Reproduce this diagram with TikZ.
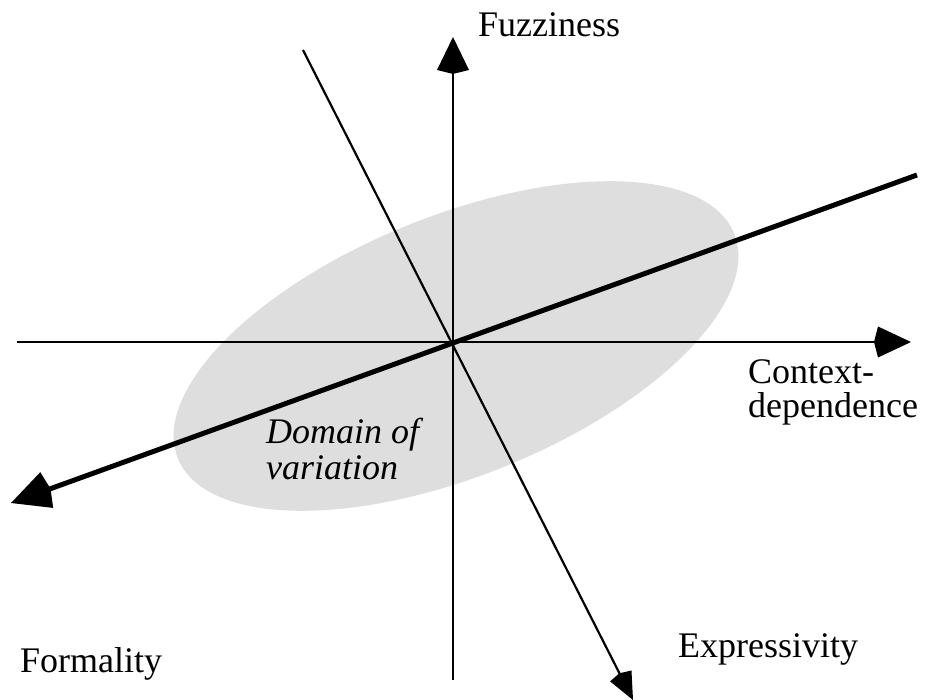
\documentclass[tikz,border=0pt]{standalone}
\usepackage{fontspec}
\setmainfont{Liberation Serif}
\usetikzlibrary{arrows.meta}
\begin{document}
\begin{tikzpicture}[x=1pt,y=-1pt,
  thinax/.style={line width=2.2pt},
  thickax/.style={line width=5pt},
  lbl/.style={inner sep=0pt,font=\fontsize{36}{34}\selectfont,align=left},
]
\useasboundingbox (0,0) rectangle (928,700);
\fill[black!13,rotate around={22:(456,346)}] (456,346) ellipse [x radius=300, y radius=130];
\coordinate (O) at (453,342);
\coordinate (vb) at (453,680);
\coordinate (vt) at (453,37);
\coordinate (hl) at (17,342);
\coordinate (hr) at (911,342);
\coordinate (tr) at (917,175);
\coordinate (bl) at (11,503);
\coordinate (dt) at (303,50);
\coordinate (db) at (633,700);
\draw[thinax,-{Kite[length=37pt,width=32pt,inset=4pt]}] (vb) -- (vt);
\draw[thinax,-{Kite[length=37pt,width=31pt,inset=4pt]}] (hl) -- (hr);
\draw[thickax,-{Kite[length=42pt,width=38pt,inset=4pt]}] (tr) -- (bl);
\draw[thinax,-{Kite[length=30pt,width=24pt,inset=3pt]}] (dt) -- (db);
\node[lbl,anchor=base west] (fz) at (478,37) {Fuzziness};
\node[lbl,anchor=west] (cd) at (748,392) {Context-\\dependence};
\node[lbl,anchor=west,font=\fontsize{36}{36}\selectfont\itshape] (dv) at (266,449) {Domain of\\variation};
\node[lbl,anchor=base west] (fo) at (20,672) {Formality};
\node[lbl,anchor=base west] (ex) at (678,657) {Expressivity};
\end{tikzpicture}
\end{document}
